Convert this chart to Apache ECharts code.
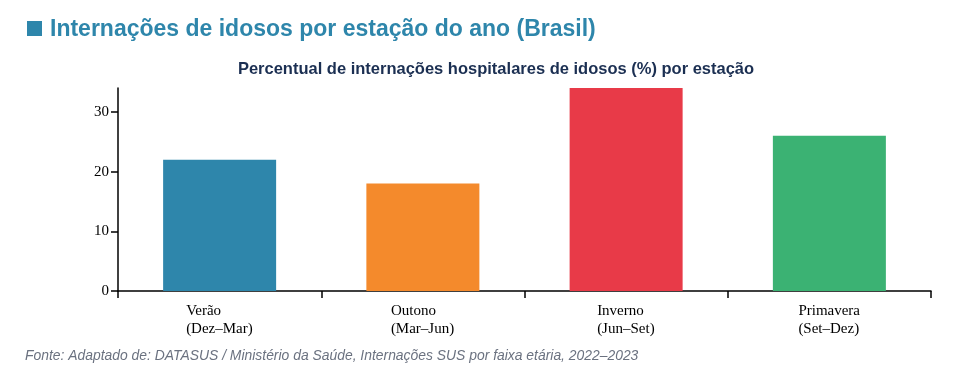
<!DOCTYPE html>
<html>
<head>
<meta charset="utf-8">
<script src="https://cdn.jsdelivr.net/npm/echarts@6/dist/echarts.min.js"></script>
<style>
html,body{margin:0;padding:0;background:#fff;}
#chart{width:958px;height:374px;}
</style>
</head>
<body>
<div id="chart"></div>
<script>
const categories = ['Verão\n(Dez–Mar)', 'Outono\n(Mar–Jun)', 'Inverno\n(Jun–Set)', 'Primavera\n(Set–Dez)'];
const values = [22, 18, 34, 26];
const barColors = ['#2e86ab', '#f48a2c', '#e83a48', '#3bb273'];
const yTicks = [0, 10, 20, 30];

const labelFont = '15px "Liberation Serif"';
const ctx = document.createElement('canvas').getContext('2d');
ctx.font = labelFont;
const rich = {};
categories.forEach((c, i) => {
  const w = Math.max(...c.split('\n').map(l => ctx.measureText(l).width));
  rich['r' + i] = {width: Math.ceil(w), align: 'left', fontFamily: 'Liberation Serif', fontSize: 15, color: '#000', lineHeight: 18};
});

const chart = echarts.init(document.getElementById('chart'), null, {renderer: 'canvas'});
chart.setOption({
  animation: false,
  backgroundColor: '#ffffff',
  title: [
    {
      text: 'Internações de idosos por estação do ano (Brasil)',
      left: 50, top: 18, padding: 0,
      textStyle: {fontFamily: 'Liberation Sans', fontWeight: 'bold', fontSize: 23, color: '#2e86ab'}
    },
    {
      text: 'Percentual de internações hospitalares de idosos (%) por estação',
      left: 496, top: 61, padding: 0, textAlign: 'center',
      textStyle: {fontFamily: 'Liberation Sans', fontWeight: 'bold', fontSize: 16.5, color: '#1b2f52'}
    },
    {
      text: 'Fonte: Adaptado de: DATASUS / Ministério da Saúde, Internações SUS por faixa etária, 2022–2023',
      left: 25, top: 349, padding: 0,
      textStyle: {fontFamily: 'Liberation Sans', fontStyle: 'italic', fontWeight: 'normal', fontSize: 13.9, color: '#6b7280'}
    }
  ],
  graphic: [{
    type: 'rect', left: 27, top: 21,
    shape: {width: 15, height: 15},
    style: {fill: '#2e86ab'}
  }],
  grid: {left: 118, right: 27, top: 88, bottom: 83, containLabel: false},
  xAxis: {
    type: 'category',
    data: categories,
    axisLine: {lineStyle: {color: '#000', width: 1.5}},
    axisTick: {show: true, alignWithLabel: false, length: 7, lineStyle: {color: '#000', width: 1.5}},
    axisLabel: {
      margin: 11, align: 'center',
      formatter: (v, i) => v.split('\n').map(l => '{r' + i + '|' + l + '}').join('\n'),
      rich: rich
    }
  },
  yAxis: {
    type: 'value',
    min: 0, max: 34,
    splitLine: {show: false},
    axisLine: {show: true, lineStyle: {color: '#000', width: 1.5}},
    axisTick: {show: true, length: 7, customValues: yTicks, lineStyle: {color: '#000', width: 1.5}},
    axisLabel: {
      fontFamily: 'Liberation Serif', fontSize: 15, color: '#000', margin: 9,
      customValues: yTicks
    }
  },
  series: [{
    type: 'bar',
    data: values.map((v, i) => ({value: v, itemStyle: {color: barColors[i]}})),
    barWidth: '55.6%'
  }]
});
</script>
</body>
</html>
